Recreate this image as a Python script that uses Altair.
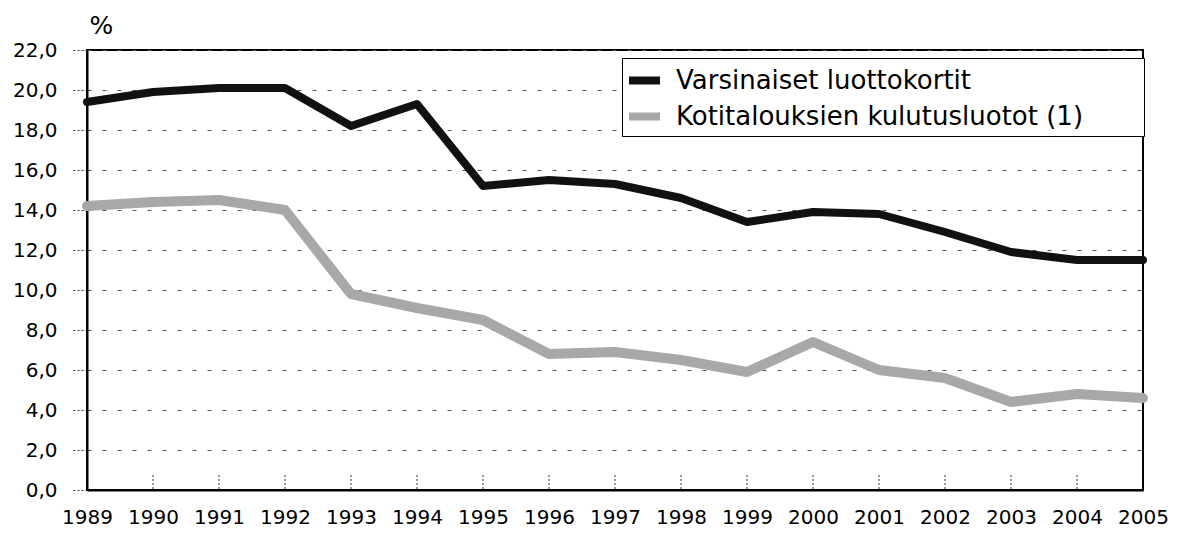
import altair as alt
import pandas as pd

years = [1989, 1990, 1991, 1992, 1993, 1994, 1995, 1996, 1997,
         1998, 1999, 2000, 2001, 2002, 2003, 2004, 2005]
luottokortit = [19.4, 19.9, 20.1, 20.1, 18.2, 19.3, 15.2, 15.5, 15.3,
                14.6, 13.4, 13.9, 13.8, 12.9, 11.9, 11.5, 11.5]
kulutusluotot = [14.2, 14.4, 14.5, 14.0, 9.8, 9.1, 8.5, 6.8, 6.9,
                 6.5, 5.9, 7.4, 6.0, 5.6, 4.4, 4.8, 4.6]
series_names = ["Varsinaiset luottokortit", "Kotitalouksien kulutusluotot (1)"]
series_colors = ["#111111", "#a8a8a8"]
y_ticks = [0, 2, 4, 6, 8, 10, 12, 14, 16, 18, 20, 22]
inner_tick_years = years[1:-1]

df = pd.DataFrame({
    "year": years + years,
    "value": luottokortit + kulutusluotot,
    "series": [series_names[0]] * len(years) + [series_names[1]] * len(years),
})
ticks_df = pd.DataFrame({"year": inner_tick_years})

FONT = "DejaVu Sans"

x_enc = alt.X(
    "year:Q",
    scale=alt.Scale(domain=[years[0], years[-1]], nice=False, zero=False),
    axis=alt.Axis(
        values=years, format="d", title=None, grid=False, ticks=False,
        labelOverlap=False, labelBound=False, labelFlush=False,
        labelPadding=17, labelFontSize=20, labelColor="black",
        domainColor="black", domainWidth=2, labelFont=FONT,
    ),
)

y_enc = alt.Y(
    "value:Q",
    scale=alt.Scale(domain=[0, 22], nice=False, zero=True),
    axis=alt.Axis(
        values=y_ticks,
        labelExpr="replace(format(datum.value, '.1f'), '.', ',')",
        title="%", titleAngle=0, titleAlign="left", titleBaseline="alphabetic",
        titleX=2, titleY=-17, titleFontSize=25, titleFontWeight="normal",
        titleColor="black", titleFont=FONT,
        tickSize=16, tickDash=[2, 2], tickColor="#333",
        grid=True, gridDash=[4, 11], gridColor="#555", gridWidth=1,
        domainColor="black", domainWidth=2,
        labelPadding=14, labelFontSize=20, labelColor="black", labelFont=FONT,
    ),
)

pad = "\u2800" * 3

color_enc = alt.Color(
    "series:N",
    sort=series_names,
    scale=alt.Scale(domain=series_names, range=series_colors),
    legend=alt.Legend(
        orient="none", legendX=535, legendY=8, title=None,
        labelFontSize=26, labelFont=FONT, labelColor="black",
        labelLimit=800, labelOffset=12,
        labelExpr="datum.label + '" + pad + "'",
        symbolType="stroke", symbolSize=961, symbolStrokeWidth=8,
        padding=3, rowPadding=0,
        strokeColor="black", fillColor="white",
    ),
)

base = alt.Chart(df).encode(
    x=x_enc, y=y_enc, color=color_enc, order=alt.Order("year:Q")
)
line_cards = base.transform_filter(
    alt.datum.series == series_names[0]
).mark_line(strokeWidth=8, strokeJoin="round", strokeCap="round")
line_loans = base.transform_filter(
    alt.datum.series == series_names[1]
).mark_line(strokeWidth=10, strokeJoin="round", strokeCap="round")

ticks = alt.Chart(ticks_df).mark_rule(
    color="#333", strokeDash=[2, 2], strokeWidth=1
).encode(
    x=x_enc,
    y=alt.value(425),
    y2=alt.value(440),
)

chart = alt.layer(ticks, line_loans, line_cards).properties(
    width=1056,
    height=440,
    padding={"left": 79, "top": 42, "right": 28, "bottom": 40},
    autosize="none",
).configure(
    font=FONT,
).configure_view(
    stroke="black", strokeWidth=2,
)

chart.save("out.html", embed_options={"renderer": "svg", "actions": False})
